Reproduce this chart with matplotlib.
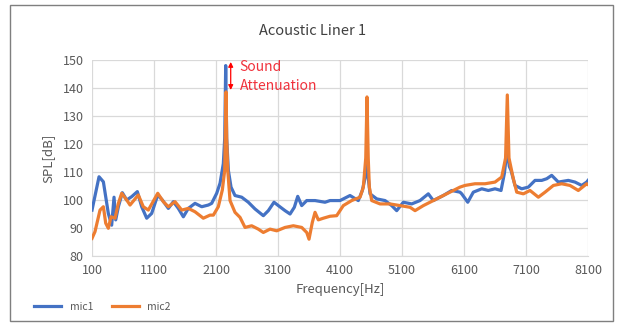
#!/usr/bin/env python3
"""Acoustic liner SPL spectrum: mic1 vs mic2."""

import matplotlib

matplotlib.use("Agg")
import matplotlib.pyplot as plt
from matplotlib.patches import Rectangle

plt.rcParams["font.family"] = ["Noto Sans CJK JP", "DejaVu Sans"]

TITLE = "Acoustic Liner 1"
X_LABEL = "Frequency[Hz]"
Y_LABEL = "SPL[dB]"
X_TICKS = [100, 1100, 2100, 3100, 4100, 5100, 6100, 7100, 8100]
Y_TICKS = [80, 90, 100, 110, 120, 130, 140, 150]

# values
mic1_freq = [
    100, 213, 283, 363, 417, 455, 482, 525, 589, 659, 740, 831, 901, 982,
    1062, 1160, 1234, 1331, 1412, 1492, 1573, 1653, 1761, 1869, 1976, 2030,
    2111, 2165, 2218, 2240, 2256, 2272, 2299, 2342, 2406, 2514, 2621, 2729,
    2863, 2944, 3035, 3105, 3213, 3294, 3363, 3418, 3482, 3563, 3697, 3858,
    3939, 4100, 4261, 4395, 4460, 4505, 4530, 4555, 4584, 4692, 4826, 4934,
    5014, 5121, 5256, 5390, 5524, 5605, 5766, 5901, 6035, 6063, 6160, 6250,
    6386, 6492, 6600, 6697, 6750, 6798, 6830, 6858, 6922, 7030, 7137, 7245,
    7353, 7434, 7514, 7621, 7782, 7890, 7998, 8079, 8100,
]
mic1_spl = [
    96.4, 108.3, 106.5, 95.2, 91.0, 101.0, 92.9, 97.6, 102.6, 100.0, 101.2,
    103.0, 97.6, 93.5, 95.2, 101.8, 100.0, 97.0, 99.4, 97.0, 94.0, 97.0, 98.8,
    97.6, 98.2, 98.8, 102.4, 106.0, 113.0, 122.0, 148.0, 122.0, 110.6, 104.6,
    101.6, 101.0, 99.2, 96.8, 94.4, 96.2, 99.2, 98.0, 96.2, 95.0, 97.4, 101.3,
    98.0, 99.8, 99.8, 99.2, 99.8, 99.8, 101.6, 99.8, 103.4, 108.0, 114.0,
    108.0, 102.2, 100.4, 99.8, 98.0, 96.2, 99.2, 98.6, 99.8, 102.2, 99.8,
    101.6, 103.4, 102.8, 102.2, 99.2, 102.8, 104.0, 103.4, 104.0, 103.4,
    109.4, 118.5, 112.0, 110.6, 105.2, 104.0, 104.6, 107.0, 107.0, 107.6,
    108.8, 106.4, 107.0, 106.4, 105.2, 106.4, 107.0,
]

mic2_freq = [
    100, 148, 229, 283, 321, 363, 406, 471, 525, 579, 659, 713, 847, 927,
    1008, 1160, 1250, 1331, 1439, 1547, 1653, 1761, 1895, 2003, 2057, 2137,
    2202, 2240, 2252, 2262, 2272, 2289, 2326, 2406, 2487, 2568, 2675, 2782,
    2863, 2971, 3079, 3213, 3347, 3482, 3563, 3600, 3653, 3697, 3750, 3831,
    3939, 4046, 4153, 4288, 4423, 4476, 4515, 4535, 4555, 4573, 4611, 4745,
    4906, 5068, 5229, 5310, 5444, 5605, 5766, 5927, 6035, 6116, 6277, 6439,
    6600, 6708, 6770, 6798, 6825, 6895, 6950, 7057, 7164, 7299, 7407, 7541,
    7675, 7809, 7943, 8079, 8100,
]
mic2_spl = [
    86.3, 88.7, 96.4, 97.6, 91.7, 89.9, 94.0, 93.5, 98.8, 102.4, 100.0, 98.2,
    101.8, 97.6, 96.4, 102.4, 99.4, 97.6, 99.4, 96.4, 97.0, 95.8, 93.5, 94.6,
    94.6, 97.6, 103.6, 110.6, 125.0, 138.6, 122.0, 110.6, 99.8, 95.6, 93.8,
    90.2, 90.8, 89.6, 88.4, 89.6, 89.0, 90.2, 90.8, 90.2, 88.4, 86.0, 92.0,
    95.6, 92.9, 93.5, 94.2, 94.4, 98.0, 99.8, 101.0, 104.6, 115.0, 136.8,
    115.0, 104.6, 99.8, 98.6, 98.6, 98.0, 97.4, 96.2, 98.0, 99.8, 101.6,
    103.4, 104.6, 105.2, 105.8, 105.8, 106.4, 108.2, 115.0, 137.5, 115.0,
    107.6, 102.8, 102.2, 103.4, 101.0, 102.8, 105.2, 105.8, 105.2, 103.4,
    105.8, 105.5,
]

BLUE = "#4472C4"
ORANGE = "#ED7D31"
GRID = "#D9D9D9"
TEXT = "#595959"
TITLE_COLOR = "#404040"


def main():
    fig = plt.figure(figsize=(6.18, 3.25), dpi=100)
    fig.patches.append(Rectangle((0.016, 0.012), 0.976, 0.973,
                                 transform=fig.transFigure, fill=False,
                                 edgecolor="#7F7F7F", linewidth=1.0))
    ax = fig.add_axes([0.1489, 0.2123, 0.8026, 0.6031])

    ax.plot(mic1_freq, mic1_spl, color=BLUE, linewidth=2.3, label="mic1")
    ax.plot(mic2_freq, mic2_spl, color=ORANGE, linewidth=2.3, label="mic2")

    ax.set_xlim(100, 8100)
    ax.set_ylim(80, 150)
    ax.set_xticks(X_TICKS)
    ax.set_yticks(Y_TICKS)
    ax.grid(True, color=GRID, linewidth=0.9)
    ax.set_axisbelow(True)
    ax.tick_params(length=0, labelsize=9, labelcolor=TEXT, pad=6)
    for side in ("top", "right", "left"):
        ax.spines[side].set_visible(False)
    ax.spines["bottom"].set_color(GRID)

    ax.set_xlabel(X_LABEL, fontsize=9.5, color=TEXT, labelpad=4)
    ax.set_ylabel(Y_LABEL, fontsize=9.5, color=TEXT, labelpad=6)
    fig.text(0.505, 0.905, TITLE, ha="center", va="center", fontsize=10.5,
             color=TITLE_COLOR)

    # sound attenuation marker at the first peak
    ax.annotate("", xy=(2337, 139.3), xytext=(2337, 149.3),
                arrowprops=dict(arrowstyle="<|-|>", color="red", lw=0.9,
                                mutation_scale=7, shrinkA=0, shrinkB=0))
    ax.text(2480, 147.4, "Sound", color="#F0323C", fontsize=10, va="center")
    ax.text(2480, 140.6, "Attenuation", color="#F0323C", fontsize=10,
            va="center")

    fig.legend(loc="lower left", bbox_to_anchor=(0.04, 0.012), ncol=2,
               frameon=False, fontsize=7.5, handlelength=2.6,
               columnspacing=1.8, labelcolor=TEXT)

    fig.savefig("out.png", dpi=100)
    plt.close(fig)
    return 0


if __name__ == "__main__":
    raise SystemExit(main())
